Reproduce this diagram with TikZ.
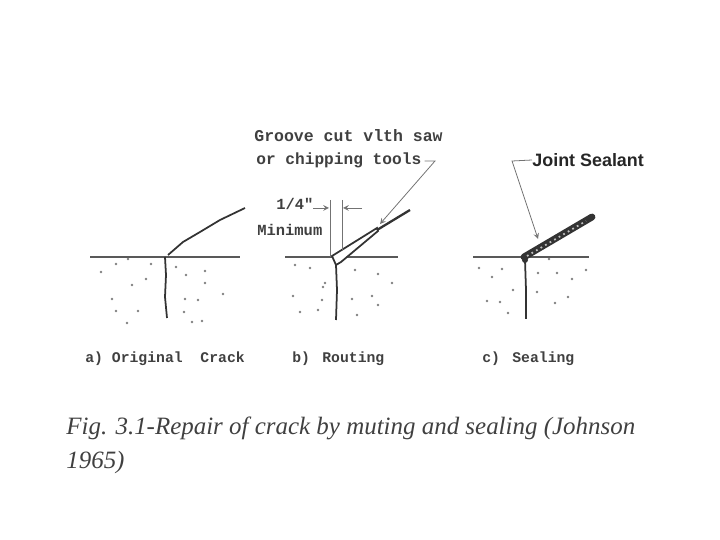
\documentclass[tikz,border=0pt]{standalone}
\usepackage{fontspec}
\setmainfont{Liberation Serif}
\setsansfont{Liberation Sans}
\setmonofont{Liberation Mono}
\usetikzlibrary{arrows.meta}
\begin{document}
\begin{tikzpicture}[x=0.02cm, y=-0.02cm, >=stealth,
    surface/.style={line width=1.3pt, black!65},
    crack/.style={line width=1pt, black!80},
    leader/.style={line width=0.45pt, black!55},
    speck/.style={fill=black!50},
    monolabel/.style={font=\ttfamily\bfseries\fontsize{9.2}{11}\selectfont, text=black!75, inner sep=0pt},
    sublabel/.style={font=\ttfamily\bfseries\fontsize{8.4}{11}\selectfont, text=black!75, inner sep=0pt, anchor=west},
    captionline/.style={font=\itshape\fontsize{14.2}{16}\selectfont, text=black!75, inner sep=0pt, anchor=west}]
    \useasboundingbox (0,0) rectangle (720,540);

    % a) original crack
    \draw[surface] (90,257) -- (240,257);
    \draw[crack] (168,255) -- (183,242) -- (200,232) -- (220,220) -- (245,208);
    \draw[crack] (165,257) -- (166,275) -- (165,297) -- (167,318);
    \foreach \px/\py in {128/259,101/272,116/264,151/264,146/279,132/285,112/299,116/311,138/311,
        176/267,186/275,205/271,205/283,223/294,185/299,198/300,184/312,192/322,202/321,127/323} {
        \fill[speck] (\px,\py) circle (1.3);
    }

    % b) routing
    \draw[surface] (285,257) -- (398,257);
    \draw[crack] (336,265) -- (337,290) -- (336,320);
    \draw[crack, fill=white] (332,256) -- (336,265) -- (341,262) -- (378,231) -- (377,228) -- cycle;
    \draw[line width=1.3pt, black!80] (377,230) -- (410,210);
    \foreach \px/\py in {295/265,310/268,325/283,293/296,322/300,318/310,355/270,378/274,
        392/283,352/299,372/296,378/305,300/312,357/315,323/287} {
        \fill[speck] (\px,\py) circle (1.3);
    }
    \draw[leader] (330,200) -- (330,257);
    \draw[leader] (342,200) -- (342,250);
    \node[monolabel, anchor=west, font=\ttfamily\bfseries\fontsize{8.8}{11}\selectfont] (quarter) at (276,204) {1/4"};
    \node[monolabel, anchor=west, font=\ttfamily\bfseries\fontsize{8.8}{11}\selectfont] (minimum) at (257,230) {Minimum};
    \coordinate (leftend) at (313,208);
    \coordinate (leftgap) at (329,208);
    \coordinate (rightend) at (362,208);
    \coordinate (rightgap) at (343,208);
    \draw[->, leader] (leftend) -- (leftgap);
    \draw[->, leader] (rightend) -- (rightgap);
    \node[monolabel, anchor=west, font=\ttfamily\bfseries\fontsize{9.4}{11}\selectfont] (groove) at (254,136) {Groove cut vlth saw};
    \node[monolabel, anchor=west] (tools) at (256,160) {or chipping tools};
    \coordinate (toolsknee) at (435,161);
    \coordinate (toolstip) at (380,224);
    \draw[->, leader] (tools.east) ++(3,1) -- (toolsknee) -- (toolstip);

    % c) sealing
    \draw[surface] (473,257) -- (589,257);
    \draw[crack] (525,260) -- (526,290) -- (526,319);
    \draw[line width=3.9pt, black!80, line cap=round] (524,257) -- (592,217);
    \draw[line width=1pt, black!25, dotted] (527,256) -- (586,221);
    \fill[black!80] (525,260) circle (3);
    \foreach \px/\py in {479/268,502/269,492/277,513/290,487/301,500/302,508/313,538/273,
        557/273,572/279,586/270,537/292,555/303,568/297,549/259} {
        \fill[speck] (\px,\py) circle (1.3);
    }
    \node[font=\sffamily\bfseries\fontsize{10.2}{12}\selectfont, text=black!85, inner sep=0pt, anchor=west]
        (sealant) at (532,160) {Joint Sealant};
    \coordinate (sealknee) at (512,161);
    \coordinate (sealtip) at (538,239);
    \draw[->, leader] (sealant.west) -- (sealknee) -- (sealtip);

    % labels under the panels
    \node[sublabel] (labela) at (85,359) {a) Original\ \ Crack};
    \node[sublabel] (labelb) at (292,359) {b)\hspace{7pt}Routing};
    \node[sublabel] (labelc) at (482,359) {c)\hspace{7pt}Sealing};

    \node[captionline] (captiona) at (66,428) {Fig. 3.1-Repair of crack by muting and sealing (Johnson};
    \node[captionline] (captionb) at (66,462) {1965)};
\end{tikzpicture}
\end{document}
